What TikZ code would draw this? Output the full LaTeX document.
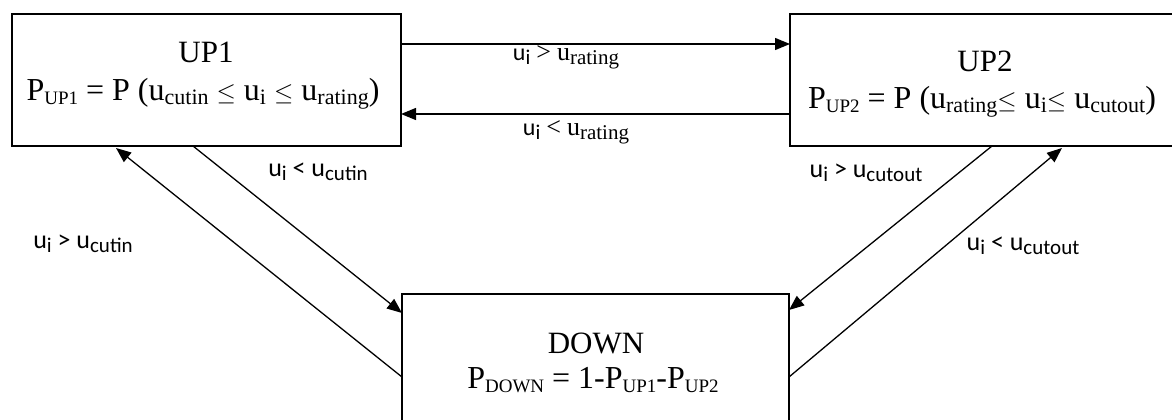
\documentclass[tikz,border=0pt]{standalone}
\usepackage{fontspec}
\setmainfont{Liberation Serif}
\newfontfamily\labelfont{Carlito}
\usetikzlibrary{arrows.meta}

% text sizes
\newcommand\titlesize{\fontsize{31}{36}\selectfont}
\newcommand\formsize{\fontsize{32}{36}\selectfont}
\newcommand\ssub[1]{\raisebox{-4.5pt}{\fontsize{22}{22}\selectfont #1}}
\newcommand\capsub[1]{\raisebox{-4.5pt}{\fontsize{19}{20}\selectfont #1}}
\newcommand\csub[1]{\raisebox{-4pt}{\fontsize{21}{21}\selectfont #1}}
\newcommand\clabel[2]{{\labelfont\fontsize{26}{26}\selectfont u\csub{i} #1 u\csub{#2}}}
\newcommand\mlabel[2]{{\labelfont\fontsize{24}{24}\selectfont u\csub{i}}\hspace{6pt}{\fontsize{26}{26}\selectfont #1\hspace{6pt}u\raisebox{-4pt}{\fontsize{21}{21}\selectfont #2}}}

\begin{document}
\begin{tikzpicture}[x=1pt,y=-1pt,
  state/.style={draw,line width=1.4pt,inner sep=0pt,outer sep=0pt},
  titletext/.style={inner sep=0pt,anchor=base,font=\titlesize},
  formtext/.style={inner sep=0pt,anchor=base,font=\formsize},
  cond/.style={inner sep=0pt,anchor=base},
  link/.style={line width=1.3pt,-{Triangle[length=15pt,width=12pt]}}]
\clip (0,0) rectangle (1172,420);

% states
\node[state,minimum width=389pt,minimum height=132pt] (up1) at (206.5,80) {};
\node[state,minimum width=392pt,minimum height=132pt] (up2) at (986,80) {};
\node[state,minimum width=387pt,minimum height=140pt] (down) at (595.5,364) {};

\node[titletext] (up1t) at (206,63) {UP1};
\node[formtext] (up1p) at (203,100) {P\capsub{UP1} = P (u\ssub{cutin} $\le$ u\ssub{i} $\le$ u\ssub{rating})};
\node[titletext] (up2t) at (985,71) {UP2};
\node[formtext] (up2p) at (982,108) {P\capsub{UP2} = P (u\ssub{rating}$\le$ u\ssub{i}$\le$ u\ssub{cutout})};
\node[titletext] (downt) at (596,353) {DOWN};
\node[formtext] (downp) at (593,388) {P\capsub{DOWN} = 1-P\capsub{UP1}-P\capsub{UP2}};

% transitions
\draw[link] ([yshift=-30pt]up1.north east) -- ([yshift=-30pt]up2.north west);
\draw[link] ([yshift=32pt]up2.south west) -- ([yshift=32pt]up1.south east);
\draw[link] ([xshift=181pt]up1.south west) -- ([yshift=-19pt]down.north west);
\draw[link] ([yshift=-83pt]down.north west) -- ([xshift=104pt,yshift=-2pt]up1.south west);
\draw[link] ([xshift=202pt]up2.south west) -- ([yshift=-16pt]down.north east);
\draw[link] ([yshift=-83pt]down.north east) -- ([xshift=272pt,yshift=-2pt]up2.south west);

% conditions
\node[cond] (l1) at (566,61) {\mlabel{>}{rating}};
\node[cond] (l2) at (576,135) {\mlabel{<}{rating}};
\node[cond] (l3) at (318,176) {\clabel{<}{cutin}};
\node[cond] (l4) at (83,248) {\clabel{>}{cutin}};
\node[cond] (l5) at (866,177) {\clabel{>}{cutout}};
\node[cond] (l6) at (1023,250) {\clabel{<}{cutout}};
\end{tikzpicture}
\end{document}
